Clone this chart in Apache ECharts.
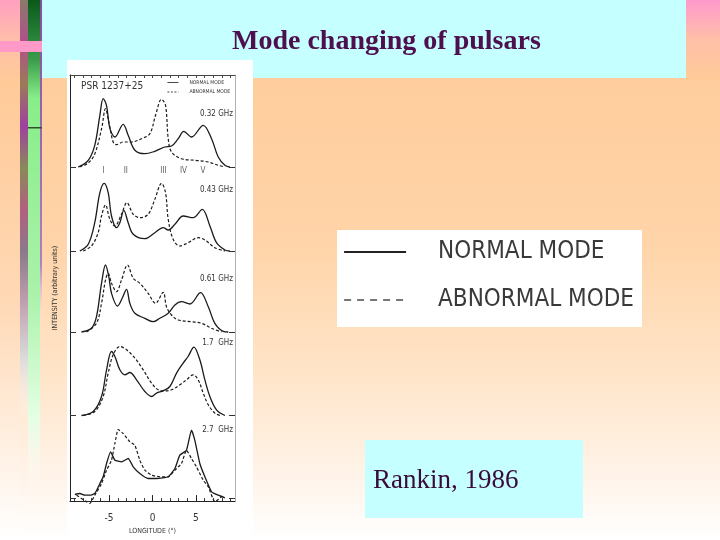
<!DOCTYPE html>
<html>
<head>
<meta charset="utf-8">
<script src="https://cdn.jsdelivr.net/npm/echarts@6/dist/echarts.min.js"></script>
<style>html,body{margin:0;padding:0;}#c{width:720px;height:540px;}</style>
</head>
<body>
<div id="c"></div>
<script>
// ---------------- DATA (longitude in degrees, intensity in arbitrary units) ----------------
const frequencies = ['0.32 GHz', '0.43 GHz', '0.61 GHz', '1.7  GHz', '2.7  GHz'];
const modeNames = ['NORMAL MODE', 'ABNORMAL MODE'];
const componentNames = ['I', 'II', 'III', 'IV', 'V'];
const componentLon = [-5.63, -3.07, 1.27, 3.57, 5.8];
const lonTickLabels = [-5, 0, 5];
const lonMinorTicks = [-9, -8, -7, -6, -4, -3, -2, -1, 1, 2, 3, 4, 6, 7, 8, 9];
const lonAllTicks = [-9, -8, -7, -6, -5, -4, -3, -2, -1, 0, 1, 2, 3, 4, 5, 6, 7, 8, 9];

const normal032 = [[-8.56,0],[-7.4,6.7],[-6.65,21.7],[-6.06,51.7],[-5.68,68.3],[-5.3,61.7],[-4.9,38.3],[-4.33,30],[-3.38,42.7],[-2.8,31.7],[-2.03,16.7],[-0.88,13.3],[0.27,15.7],[1.42,20],[2.19,21],[2.96,28.3],[3.61,35.7],[4.49,30],[5.84,41.7],[6.8,28.3],[7.57,10],[8.34,1.7],[8.9,0]];
const abnormal032 = [[-8.4,0],[-7.4,4],[-6.65,13],[-5.87,38],[-5.41,58.3],[-5.03,45],[-4.53,25],[-4.14,22.3],[-3.38,25],[-2.42,25],[-1.27,28.3],[-0.31,33.3],[0.35,51.7],[1.04,67.7],[1.5,61.7],[1.81,28.3],[2.19,15],[3.34,8.3],[4.88,6.7],[6.42,5],[7.57,1.7],[8.34,0]];

const normal043 = [[-8.37,0],[-7.4,6.7],[-6.65,28.3],[-6.06,58.3],[-5.56,67.7],[-5.1,58.3],[-4.72,35],[-4.14,23.3],[-3.76,28.3],[-3.3,40.7],[-2.8,28.3],[-2.22,16.7],[-0.88,12.3],[0.27,18.3],[1.23,23.3],[1.81,21],[2.58,26.7],[3.53,35],[4.68,33.3],[5.73,41.7],[6.61,25],[7.37,8.3],[8.34,1],[8.9,0]];
const abnormal043 = [[-7.98,0],[-7.03,5],[-6.26,18.3],[-5.87,35],[-5.41,46],[-4.91,31.7],[-4.33,25],[-3.57,36.7],[-2.95,48.3],[-2.22,36.7],[-1.46,33.3],[-0.5,36.7],[0.27,51.7],[1.04,67.7],[1.5,58.3],[1.81,31.7],[2.38,11.7],[3.15,5],[4.1,8.3],[5.26,13.3],[6.03,11],[7.18,3.3],[8.34,0]];

const normal061 = [[-8.18,0],[-7.03,3.7],[-6.45,15.3],[-5.87,48.7],[-5.41,67],[-5.03,55.3],[-4.72,38.7],[-4.03,26],[-3.49,33.7],[-2.99,42.7],[-2.61,28.7],[-2.03,18.7],[-0.88,13.7],[0.08,10.3],[0.84,13.7],[1.81,18.7],[2.58,27],[3.34,30.3],[4.3,28],[5.53,39.3],[6.42,25.3],[7.18,8.7],[8.14,0.7],[8.72,0]];
const abnormal061 = [[-7.6,0],[-6.45,8.7],[-5.87,28.7],[-5.41,52],[-5.1,58.7],[-4.72,48.7],[-4.14,40.3],[-3.57,52],[-2.88,67],[-2.22,53.7],[-1.46,48.7],[-0.5,38.7],[0.35,28.7],[1.23,39.7],[1.61,25.3],[2.19,17],[2.96,12],[4.49,10.3],[5.65,8.7],[6.8,3.7],[7.95,0]];

const normal17 = [[-8.18,0],[-6.83,4],[-5.87,19],[-5.29,45.7],[-4.72,64],[-4.33,59],[-3.76,45.7],[-3.18,40.7],[-2.61,43],[-1.84,35.7],[-0.88,24],[-0.11,19],[0.47,22.4],[1.23,24.7],[2.0,29],[2.77,42.4],[3.53,52.4],[4.1,59],[4.77,68.4],[5.45,55.7],[6.03,35.7],[6.61,19],[7.37,5.7],[8.34,0]];
const abnormal17 = [[-7.98,0],[-6.64,4],[-5.68,19],[-5.1,42.4],[-4.53,60.7],[-3.76,69],[-2.99,65.7],[-2.03,57.4],[-1.07,45.7],[-0.11,32.4],[0.66,25.7],[1.42,24.7],[2.19,25.7],[3.15,30.7],[3.91,35.7],[4.68,40.7],[5.26,35.7],[5.84,22.4],[6.42,10.7],[7.18,2.4],[7.76,0]];

const normal27 = [[-8.94,4],[-8.37,5],[-7.79,3.3],[-7.22,3.3],[-6.64,5],[-6.06,15],[-5.68,21.7],[-5.29,35],[-4.83,46.7],[-4.33,38.3],[-3.57,36.7],[-2.8,40],[-2.22,31.7],[-1.46,25],[-0.5,20],[0.47,20],[1.81,21.7],[2.58,30],[3.15,43.3],[3.91,48.3],[4.49,68.3],[4.87,58.3],[5.45,35],[6.03,21.7],[6.8,6.7],[7.57,3.3],[8.34,0.7]];
const abnormal27 = [[-8.75,3.3],[-8.18,0],[-7.6,-3.3],[-7.22,-5],[-6.64,3.3],[-5.87,15],[-5.29,28.3],[-4.72,38.3],[-4.33,55],[-3.95,69],[-3.38,65],[-2.61,56.7],[-2.03,53.3],[-1.46,38.3],[-0.88,28.3],[-0.11,23.3],[0.84,21.7],[1.81,21.7],[2.58,28.3],[3.34,35],[3.91,48.3],[4.49,40],[5.06,31.7],[5.84,18.3],[6.42,11.7],[7.18,-3.3],[7.95,1.7]];

const normalProfiles = [normal032, normal043, normal061, normal17, normal27];
const abnormalProfiles = [abnormal032, abnormal043, abnormal061, abnormal17, abnormal27];

// ---------------- LAYOUT ----------------
const narrow = "'DejaVu Sans Condensed', 'Liberation Sans Narrow', 'Liberation Sans', sans-serif";
const serif = "'Liberation Serif', 'Times New Roman', serif";
const ink = '#1a1a1a';
const panelBaseline = [167, 251, 332, 415.5, 498.5];
const freqLabelTop = [110, 186, 275, 339, 426];
const plotLeft = 70, plotWidth = 165;
const hidden = { color: 'rgba(0,0,0,0)', borderColor: 'rgba(0,0,0,0)', borderWidth: 0 };

const grids = [{ left: plotLeft, width: plotWidth, top: 75, height: 437, show: false }];
const xAxes = [
  { gridIndex: 0, type: 'value', position: 'bottom', min: -9.5, max: 9.5,
    axisLine: { show: true, onZero: false, lineStyle: { color: '#222', width: 1 } },
    axisTick: { show: true, inside: true, length: 6, customValues: lonTickLabels, lineStyle: { color: '#222' } },
    axisLabel: { show: true, customValues: lonTickLabels, fontSize: 10, margin: 12, color: '#333', fontFamily: narrow },
    splitLine: { show: false },
    name: 'LONGITUDE (°)', nameLocation: 'middle', nameGap: 16,
    nameTextStyle: { fontSize: 7, color: '#333', fontFamily: narrow } },
  { gridIndex: 0, type: 'value', position: 'bottom', min: -9.5, max: 9.5,
    axisLine: { show: false, onZero: false },
    axisTick: { show: true, inside: true, length: 3, customValues: lonMinorTicks, lineStyle: { color: '#333' } },
    axisLabel: { show: false }, splitLine: { show: false } },
  { gridIndex: 0, type: 'value', position: 'top', min: -9.5, max: 9.5,
    axisLine: { show: true, onZero: false, lineStyle: { color: '#444', width: 1 } },
    axisTick: { show: true, inside: true, length: 3, customValues: lonAllTicks, lineStyle: { color: '#444' } },
    axisLabel: { show: false }, splitLine: { show: false } }
];
const yAxes = [
  { gridIndex: 0, type: 'value', position: 'left', min: 0, max: 1,
    axisLine: { show: true, onZero: false, lineStyle: { color: '#222', width: 1 } },
    axisTick: { show: false }, axisLabel: { show: false }, splitLine: { show: false },
    name: 'INTENSITY (arbitrary units)', nameLocation: 'middle', nameGap: 11, nameRotate: 90,
    nameTextStyle: { fontSize: 7, color: '#333', fontFamily: narrow } },
  { gridIndex: 0, type: 'value', position: 'right', min: 0, max: 1,
    axisLine: { show: true, onZero: false, lineStyle: { color: '#b0b0b0', width: 1 } },
    axisTick: { show: false }, axisLabel: { show: false }, splitLine: { show: false } }
];
const series = [];
const titles = [
  { text: 'Mode changing of pulsars', left: 232, top: 28, padding: 0,
    textStyle: { fontFamily: serif, fontWeight: 'bold', fontSize: 28, color: '#4d0f4d' } },
  { text: 'Rankin, 1986', left: 373, top: 467, padding: 0,
    textStyle: { fontFamily: serif, fontWeight: 'normal', fontSize: 27, color: '#3a0a3a' } },
  { text: 'PSR 1237+25', left: 81, top: 81, padding: 0,
    textStyle: { fontFamily: narrow, fontWeight: 'normal', fontSize: 10, color: '#333' } }
];

panelBaseline.forEach((b, i) => {
  const g = grids.length;
  grids.push({ left: plotLeft, width: plotWidth, top: b - 80, height: 85, show: false });
  const xi = xAxes.length;
  xAxes.push({ gridIndex: g, type: 'value', min: -9.5, max: 9.5, show: false, axisLine: { onZero: false } });
  const yi = yAxes.length;
  ['left', 'right'].forEach(pos => {
    yAxes.push({ gridIndex: g, type: 'value', position: pos, min: -5, max: 80,
      axisLine: { show: false, onZero: false },
      axisTick: { show: true, inside: true, length: 6, customValues: [0], lineStyle: { color: '#333' } },
      axisLabel: { show: false }, splitLine: { show: false } });
  });
  const sm = i === 4 ? 0.15 : 0.35;
  series.push({ name: modeNames[0], type: 'line', xAxisIndex: xi, yAxisIndex: yi, data: normalProfiles[i],
    symbol: 'none', smooth: sm, clip: false, color: ink, lineStyle: { color: ink, width: 1.3 }, z: 3 });
  series.push({ name: modeNames[1], type: 'line', xAxisIndex: xi, yAxisIndex: yi, data: abnormalProfiles[i],
    symbol: 'none', smooth: sm, clip: false, color: ink, lineStyle: { color: ink, width: 1.2, type: [3, 2] }, z: 3 });
  titles.push({ text: frequencies[i], right: 720 - 233, top: freqLabelTop[i], padding: 0,
    textStyle: { fontFamily: narrow, fontWeight: 'normal', fontSize: 8, color: '#333' } });
  if (i === 0) {
    series.push({ name: 'components', type: 'scatter', xAxisIndex: xi, yAxisIndex: yi,
      data: componentLon.map((x, k) => ({ value: [x, -3.5], name: componentNames[k] })),
      symbolSize: 1, itemStyle: { color: 'rgba(0,0,0,0)' }, silent: true,
      label: { show: true, position: 'inside', formatter: p => p.name, fontSize: 8, color: '#333', fontFamily: narrow } });
  }
});

const option = {
  animation: false,
  graphic: [{ z: -10, elements: [
    { type: 'rect', z: -10, shape: { x: 0, y: 0, width: 720, height: 540 },
      style: { fill: new echarts.graphic.LinearGradient(0, 0, 0, 1, [
        { offset: 0, color: '#FFCA98' }, { offset: 0.45, color: '#FFD4A8' },
        { offset: 0.7, color: '#FFE5CA' }, { offset: 0.9, color: '#FFF5EC' }, { offset: 1, color: '#FFFFFF' }]) } },
    { type: 'rect', z: -10, shape: { x: 686, y: 0, width: 34, height: 80 },
      style: { fill: new echarts.graphic.LinearGradient(0, 0, 0, 1, [
        { offset: 0, color: '#FF99CC' }, { offset: 0.5, color: '#FFC0A8' }, { offset: 1, color: '#FFCA98' }]) } },
    { type: 'rect', z: -10, shape: { x: 0, y: 0, width: 20, height: 540 },
      style: { fill: new echarts.graphic.LinearGradient(0, 0, 0, 1, [
        { offset: 0, color: '#FFA0C0' }, { offset: 0.08, color: '#FFC0A8' }, { offset: 0.15, color: '#FFCA98' },
        { offset: 0.55, color: '#FFD8B4' }, { offset: 0.85, color: '#FFF2E6' }, { offset: 1, color: '#FFFFFF' }]) } },
    { type: 'rect', z: -10, shape: { x: 20, y: 0, width: 8, height: 420 },
      style: { fill: new echarts.graphic.LinearGradient(0, 0, 0, 1, [
        { offset: 0, color: '#8a7a6a' }, { offset: 0.1, color: '#b0508a' }, { offset: 0.2, color: '#9a7a5a' },
        { offset: 0.3, color: '#a040a0' }, { offset: 0.4, color: '#8a8a5a' }, { offset: 0.5, color: '#b06080' },
        { offset: 0.6, color: '#8a7a8a' }, { offset: 0.72, color: '#c0a0b0' }, { offset: 0.85, color: '#dadada' },
        { offset: 1, color: 'rgba(255,255,255,0)' }]) } },
    { type: 'rect', z: -10, shape: { x: 28, y: 0, width: 12, height: 490 },
      style: { fill: new echarts.graphic.LinearGradient(0, 0, 0, 1, [
        { offset: 0, color: '#0a5a1a' }, { offset: 0.12, color: '#3a9a4a' }, { offset: 0.2, color: '#88ee88' },
        { offset: 0.6, color: '#aaf2aa' }, { offset: 0.85, color: '#e4ffe4' }, { offset: 1, color: 'rgba(255,255,255,0)' }]) } },
    { type: 'rect', z: -10, shape: { x: 40, y: 0, width: 2, height: 330 },
      style: { fill: new echarts.graphic.LinearGradient(0, 0, 0, 1, [
        { offset: 0, color: '#8050a0' }, { offset: 0.8, color: '#b080c0' }, { offset: 1, color: 'rgba(255,255,255,0)' }]) } },
    { type: 'rect', z: -10, shape: { x: 0, y: 41, width: 42, height: 11 }, style: { fill: '#FF99C8' } },
    { type: 'rect', z: -10, shape: { x: 28, y: 127, width: 14, height: 1.5 }, style: { fill: '#2f4f2f' } },
    { type: 'rect', z: -10, shape: { x: 42, y: 0, width: 644, height: 78 }, style: { fill: '#C6FFFF' } },
    { type: 'rect', z: -10, shape: { x: 67, y: 60, width: 186, height: 475 }, style: { fill: '#FFFFFF' } },
    { type: 'rect', z: -10, shape: { x: 337, y: 230, width: 305, height: 97 }, style: { fill: '#FFFFFF' } },
    { type: 'rect', z: -10, shape: { x: 365, y: 440, width: 218, height: 78 }, style: { fill: '#C6FFFF' } }
  ] }],
  title: titles,
  legend: [
    { left: 343, top: 240, orient: 'vertical', itemWidth: 62, itemHeight: 30, itemGap: 24, padding: 0,
      data: [
        { name: modeNames[0], itemStyle: hidden, lineStyle: { color: '#222', width: 2.2, type: 'solid' } },
        { name: modeNames[1], itemStyle: hidden, lineStyle: { color: '#777', width: 2, type: [7, 6] } }
      ],
      textStyle: { fontFamily: narrow, fontSize: 24, color: '#3a3a3a', padding: [0, 0, 0, 27] } },
    { left: 167, top: 80, orient: 'vertical', itemWidth: 11, itemHeight: 6, itemGap: 4.5, padding: 0,
      data: [
        { name: modeNames[0], itemStyle: hidden, lineStyle: { color: ink, width: 0.8, type: 'solid' } },
        { name: modeNames[1], itemStyle: hidden, lineStyle: { color: ink, width: 0.8, type: [2, 1.5] } }
      ],
      textStyle: { fontFamily: narrow, fontSize: 5, color: '#333', padding: [0, 0, 0, 6] } }
  ],
  grid: grids,
  xAxis: xAxes,
  yAxis: yAxes,
  series: series
};

const chart = echarts.init(document.getElementById('c'), null, { renderer: 'canvas' });
chart.setOption(option);
</script>
</body>
</html>
